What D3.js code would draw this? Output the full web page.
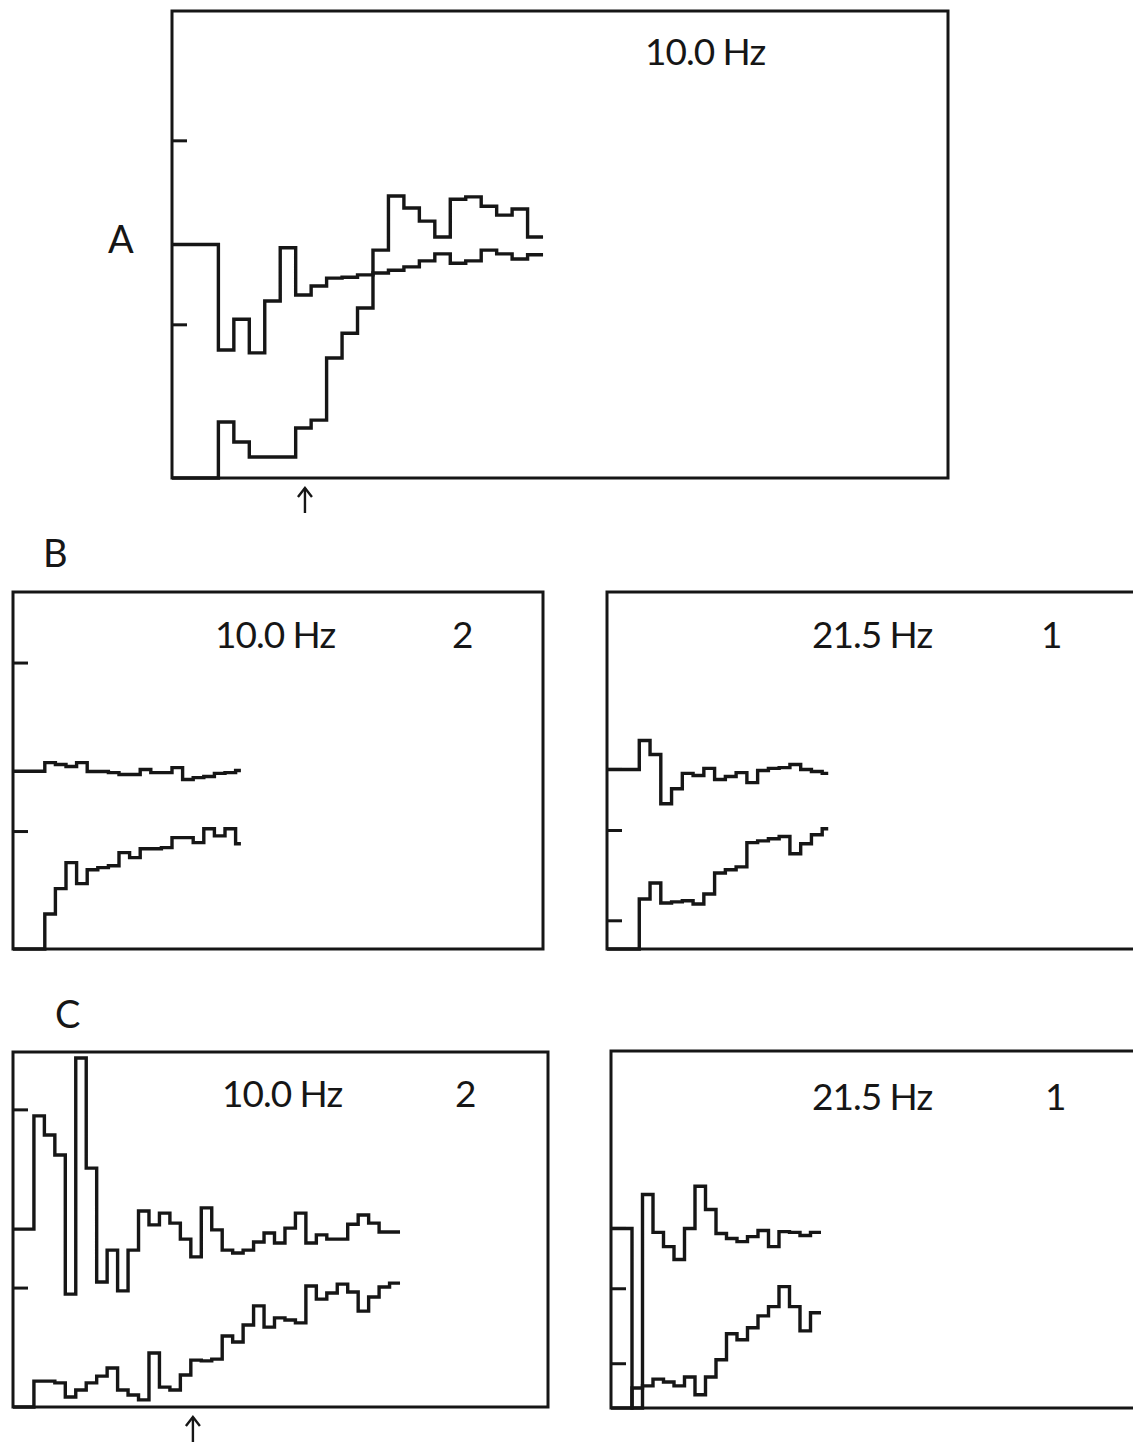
<!DOCTYPE html>
<html>
<head>
<meta charset="utf-8">
<script src="https://cdn.jsdelivr.net/npm/d3@7"></script>
<style>
  html, body { margin: 0; background: #fff; }
  text { font-family: Lato, 'Open Sans', sans-serif; fill: #161616; }
</style>
</head>
<body>
<svg id="fig" width="1133" height="1442"></svg>
<script>
// Every trace is one value per time bin, in percent of the panel height.
const aUpper = [50.0, 50.0, 50.0, 27.4, 34.0, 26.8, 37.9, 49.3, 39.2, 41.1, 42.8, 43.0,
  43.5, 43.9, 44.5, 45.2, 46.5, 48.0, 46.0, 46.5, 48.8, 48.0, 46.9, 47.8]
const aLower = [0, 0, 0, 12.0, 7.7, 4.5, 4.5, 4.5, 10.7, 12.4, 25.7, 31.0,
  36.4, 48.8, 60.4, 57.8, 55.0, 51.6, 59.7, 60.2, 58.2, 56.3, 57.6, 51.6]

const b1Upper = [49.8, 49.8, 49.8, 52.2, 51.7, 51.1, 52.2, 49.7, 49.7, 49.4, 48.9,
  48.9, 50.3, 49.4, 49.4, 50.8, 47.5, 48.0, 48.3, 49.2, 49.4, 50.0]
const b1Lower = [0, 0, 0, 9.8, 16.9, 24.2, 18.3, 22.2, 22.8, 23.3, 27.0,
  25.6, 28.1, 28.1, 28.4, 31.2, 31.2, 29.8, 33.7, 31.7, 33.7, 29.5]

const b2Upper = [50.3, 50.3, 50.3, 58.4, 54.5, 40.7, 44.9, 49.2, 48.6, 50.6, 47.5,
  48.3, 49.4, 46.6, 50.0, 50.6, 50.8, 51.7, 50.3, 49.7, 49.2]
const b2Lower = [0, 0, 0, 14.0, 18.5, 12.9, 13.2, 13.5, 12.6, 15.4, 21.3,
  22.2, 23.0, 29.8, 30.3, 30.9, 31.5, 26.7, 29.5, 32.0, 33.7]

const c1Upper = [50.1, 50.1, 82.0, 76.6, 71.0, 31.8, 98.3, 67.3, 35.2, 44.2, 32.7, 44.2,
  55.2, 51.3, 54.6, 51.8, 47.3, 42.3, 56.1, 49.9, 44.2, 43.4, 44.2, 46.5, 49.0,
  46.2, 50.4, 54.6, 46.2, 48.5, 47.3, 47.3, 51.5, 54.1, 51.8, 49.3, 49.3]
const c1Lower = [0, 0, 7.3, 7.3, 6.8, 2.8, 4.8, 6.8, 8.7, 11.0, 4.8, 3.4,
  2.0, 15.2, 5.6, 4.8, 9.0, 13.2, 13.0, 13.5, 20.0, 18.3, 23.1, 28.5, 22.5,
  25.1, 24.5, 23.7, 34.1, 30.4, 32.1, 34.6, 32.4, 27.0, 31.0, 33.8, 34.9]

const c2Upper = [50.3, 50.3, 0, 59.8, 49.2, 45.2, 41.6, 50.3, 62.1, 55.6, 48.9,
  47.5, 46.6, 48.0, 49.7, 45.2, 49.4, 49.2, 48.3, 49.2]
const c2Lower = [0, 0, 5.6, 6.2, 8.1, 7.3, 6.2, 8.7, 3.7, 8.7, 13.5,
  20.8, 19.1, 22.5, 25.8, 28.4, 34.0, 28.4, 21.6, 26.7]

// where each trace stops, in bins
const traceEnds = [24, 21.5, 20.56, 37, 20]
// left-axis tick marks, percent of panel height
const aTicks = [32.8, 72.2]
const b1Ticks = [32.9, 80.1]
const b2Ticks = [7.9, 33.2, 50.3]
const c1Ticks = [33.5, 83.7]
const c2Ticks = [12.4, 33.4, 50.3]
// panel captions
const freqLabels = ['10.0 Hz', '10.0 Hz', '21.5 Hz', '10.0 Hz', '21.5 Hz']
const unitLabels = ['', '2', '1', '2', '1']
const rowLabels = ['A', 'B', 'C']
// stimulus arrows, in bins
const arrowBins = [8.6, null, null, 17.2, null]

const svg = d3.select('#fig')
const ink = '#161616'

const panels = [
  { l: 172, t: 11, r: 948, b: 478, bin: 15.46, up: aUpper, lo: aLower, ticks: aTicks, tx: 645, ty: 65, ux: 0 },
  { l: 13, t: 592, r: 543, b: 949, bin: 10.6, up: b1Upper, lo: b1Lower, ticks: b1Ticks, tx: 215, ty: 648, ux: 452 },
  { l: 607, t: 592, r: 1145, b: 949, bin: 10.76, up: b2Upper, lo: b2Lower, ticks: b2Ticks, tx: 812, ty: 648, ux: 1041 },
  { l: 13, t: 1052, r: 548, b: 1407, bin: 10.46, up: c1Upper, lo: c1Lower, ticks: c1Ticks, tx: 222, ty: 1107, ux: 455 },
  { l: 611, t: 1051, r: 1140, b: 1408, bin: 10.5, up: c2Upper, lo: c2Lower, ticks: c2Ticks, tx: 812, ty: 1110, ux: 1045 }
]

/**
 * Draws one framed panel with its two step traces.
 *
 * @param {object} p The panel layout and data
 * @param {number} i The panel index
 */
function drawPanel (p, i) {
  const x = d3.scaleLinear().domain([0, (p.r - p.l) / p.bin]).range([p.l, p.r])
  const y = d3.scaleLinear().domain([0, 100]).range([p.b, p.t])
  const g = svg.append('g')

  g.append('rect')
    .attr('x', p.l).attr('y', p.t)
    .attr('width', p.r - p.l).attr('height', p.b - p.t)
    .attr('fill', 'none').attr('stroke', ink).attr('stroke-width', 3)

  g.selectAll('.tick').data(p.ticks).join('line')
    .attr('x1', p.l).attr('x2', p.l + 15)
    .attr('y1', d => y(d)).attr('y2', d => y(d))
    .attr('stroke', ink).attr('stroke-width', 3)

  const line = d3.line()
    .x(d => x(d[0])).y(d => y(d[1]))
    .curve(d3.curveStepAfter)

  ;[p.up, p.lo].forEach(vals => {
    const pts = vals.map((v, k) => [k, v])
    pts.push([traceEnds[i], vals[vals.length - 1]])
    g.append('path')
      .attr('d', line(pts))
      .attr('fill', 'none')
      .attr('stroke', ink)
      .attr('stroke-width', 3.4)
      .attr('stroke-linejoin', 'miter')
  })

  g.append('text')
    .attr('x', p.tx).attr('y', p.ty)
    .style('font-size', '37px')
    .style('letter-spacing', '-1px')
    .text(freqLabels[i])

  if (unitLabels[i]) {
    g.append('text')
      .attr('x', p.ux).attr('y', p.ty)
      .style('font-size', '37px')
      .text(unitLabels[i])
  }

  if (arrowBins[i] != null) {
    const ax = x(arrowBins[i])
    const a = g.append('g').attr('transform', `translate(${ax},${p.b + 10})`)
      .attr('stroke', ink).attr('stroke-width', 2.4).attr('fill', 'none')
    a.append('line').attr('x1', 0).attr('x2', 0).attr('y1', 0).attr('y2', 25)
    a.append('path').attr('d', 'M-7,9 L0,0 L7,9')
  }
}

panels.forEach(drawPanel)

const rowPos = [[108, 253], [43, 567], [55, 1028]]
svg.selectAll('.row').data(rowLabels).join('text')
  .attr('x', (d, i) => rowPos[i][0])
  .attr('y', (d, i) => rowPos[i][1])
  .style('font-size', '38px')
  .text(d => d)
</script>
</body>
</html>
